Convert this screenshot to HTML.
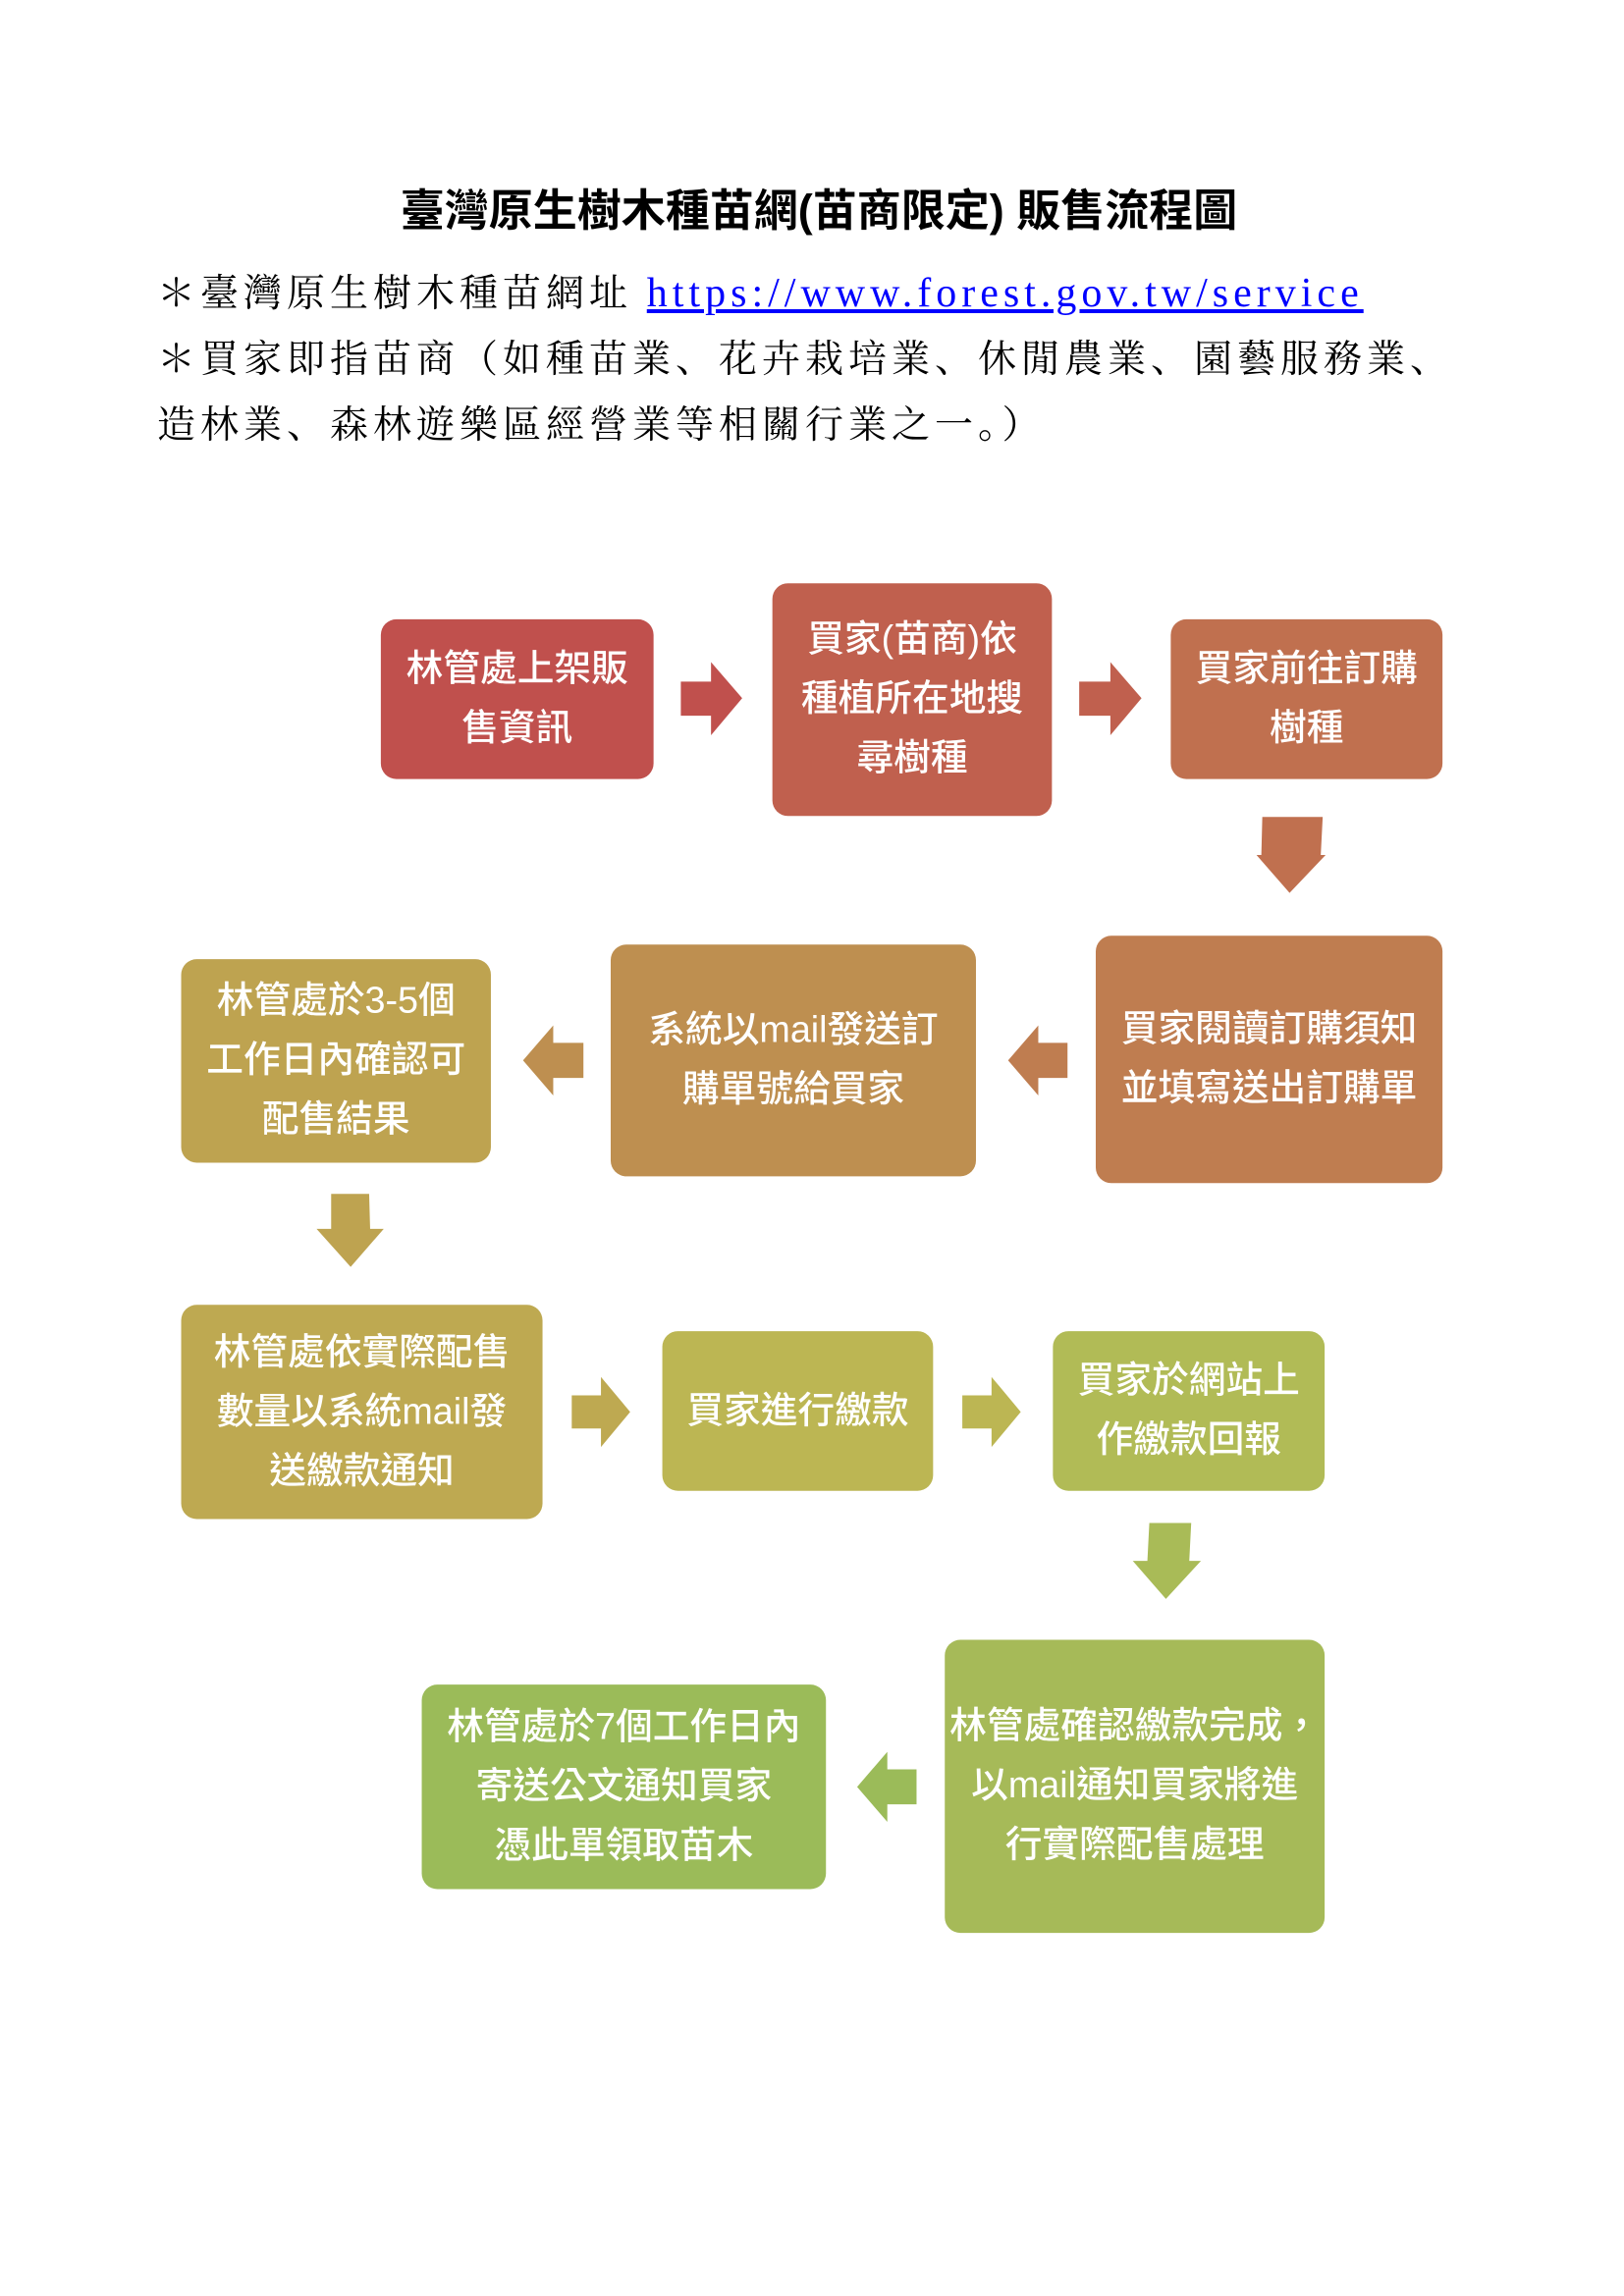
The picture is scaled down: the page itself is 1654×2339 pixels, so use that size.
<!DOCTYPE html>
<html><head><meta charset="utf-8"><style>
body{margin:0;background:#fff;}
#p{position:relative;width:1654px;height:2339px;overflow:hidden;background:#fff;}
#d{position:absolute;left:0;top:0;width:1654px;height:2339px;transform:scale(0.992);transform-origin:0 0;}
.t{position:absolute;white-space:nowrap;}
.b{position:absolute;border-radius:16px;color:#fff;display:flex;align-items:center;justify-content:center;text-align:center;font-family:"Liberation Sans","Noto Sans CJK TC",sans-serif;font-size:38px;line-height:61px;font-weight:500;}
.s{font-family:"Liberation Serif","Noto Serif CJK SC",serif;font-size:39px;letter-spacing:5px;color:#000;}
</style></head><body><div id="p">
<div class="t" style="left:396px;top:178px;width:876px;text-align:center;font-family:'Liberation Sans','Noto Sans CJK TC',sans-serif;font-weight:bold;font-size:45px;">臺灣原生樹木種苗網(苗商限定) 販售流程圖</div>
<div class="t s" style="left:160px;top:268px;">＊臺灣原生樹木種苗網址 <span style="color:#00f;text-decoration:underline;letter-spacing:5px;font-size:42px;">https://www.forest.gov.tw/service</span></div>
<div class="t s" style="left:160px;top:335px;">＊買家即指苗商（如種苗業、花卉栽培業、休閒農業、園藝服務業、</div>
<div class="t s" style="left:160px;top:402px;">造林業、森林遊樂區經營業等相關行業之一。）</div>

<div id="d">
<div class="b" style="left:391px;top:636px;width:280px;height:164px;background:#c0504d;">林管處上架販<br>售資訊</div>
<div class="b" style="left:793px;top:599px;width:287px;height:239px;background:#c0604e;">買家(苗商)依<br>種植所在地搜<br>尋樹種</div>
<div class="b" style="left:1202px;top:636px;width:279px;height:164px;background:#c0704f;">買家前往訂購<br>樹種</div>

<div class="b" style="left:1125px;top:961px;width:356px;height:254px;background:#bf7d50;">買家閱讀訂購須知<br>並填寫送出訂購單</div>
<div class="b" style="left:627px;top:970px;width:375px;height:238px;background:#be8f50;">系統以mail發送訂<br>購單號給買家</div>
<div class="b" style="left:186px;top:985px;width:318px;height:209px;background:#bea350;">林管處於3-5個<br>工作日內確認可<br>配售結果</div>

<div class="b" style="left:186px;top:1340px;width:371px;height:220px;background:#bea951;">林管處依實際配售<br>數量以系統mail發<br>送繳款通知</div>
<div class="b" style="left:680px;top:1367px;width:278px;height:164px;background:#bcb653;">買家進行繳款</div>
<div class="b" style="left:1081px;top:1367px;width:279px;height:164px;background:#b1bb56;">買家於網站上<br>作繳款回報</div>

<div class="b" style="left:970px;top:1684px;width:390px;height:301px;background:#a6ba58;">林管處確認繳款完成，<br>以mail通知買家將進<br>行實際配售處理</div>
<div class="b" style="left:433px;top:1730px;width:415px;height:210px;background:#9bbb59;">林管處於7個工作日內<br>寄送公文通知買家<br>憑此單領取苗木</div>

<svg style="position:absolute;left:0;top:0" width="1654" height="2339">
<polygon fill="#c0504d" points="699,700 730,700 730,680 762,717 730,755 730,735 699,735"/>
<polygon fill="#c0604e" points="1108,700 1140,700 1140,680 1172,717 1140,755 1140,735 1108,735"/>
<polygon fill="#c0704f" points="1296,839 1358,839 1356,878 1361,878 1324,917 1290,878 1295,878"/>
<polygon fill="#bf7d50" points="1096,1071 1066,1071 1066,1053 1035,1089 1066,1125 1066,1107 1096,1107"/>
<polygon fill="#be8f50" points="599,1071 568,1071 568,1053 537,1089 568,1125 568,1107 599,1107"/>
<polygon fill="#bea350" points="340,1226 379,1226 380,1262 394,1262 360,1301 325,1262 340,1262"/>
<polygon fill="#bea951" points="587,1433 617,1433 617,1414 647,1450 617,1486 617,1467 587,1467"/>
<polygon fill="#bcb653" points="988,1433 1018,1433 1018,1414 1048,1450 1018,1486 1018,1467 988,1467"/>
<polygon fill="#a9bb57" points="1180,1564 1223,1564 1221,1603 1233,1603 1197,1642 1163,1603 1178,1603"/>
<polygon fill="#9bbb59" points="941,1817 911,1817 911,1799 880,1835 911,1871 911,1853 941,1853"/>
</svg>
</div>
</div></body></html>
